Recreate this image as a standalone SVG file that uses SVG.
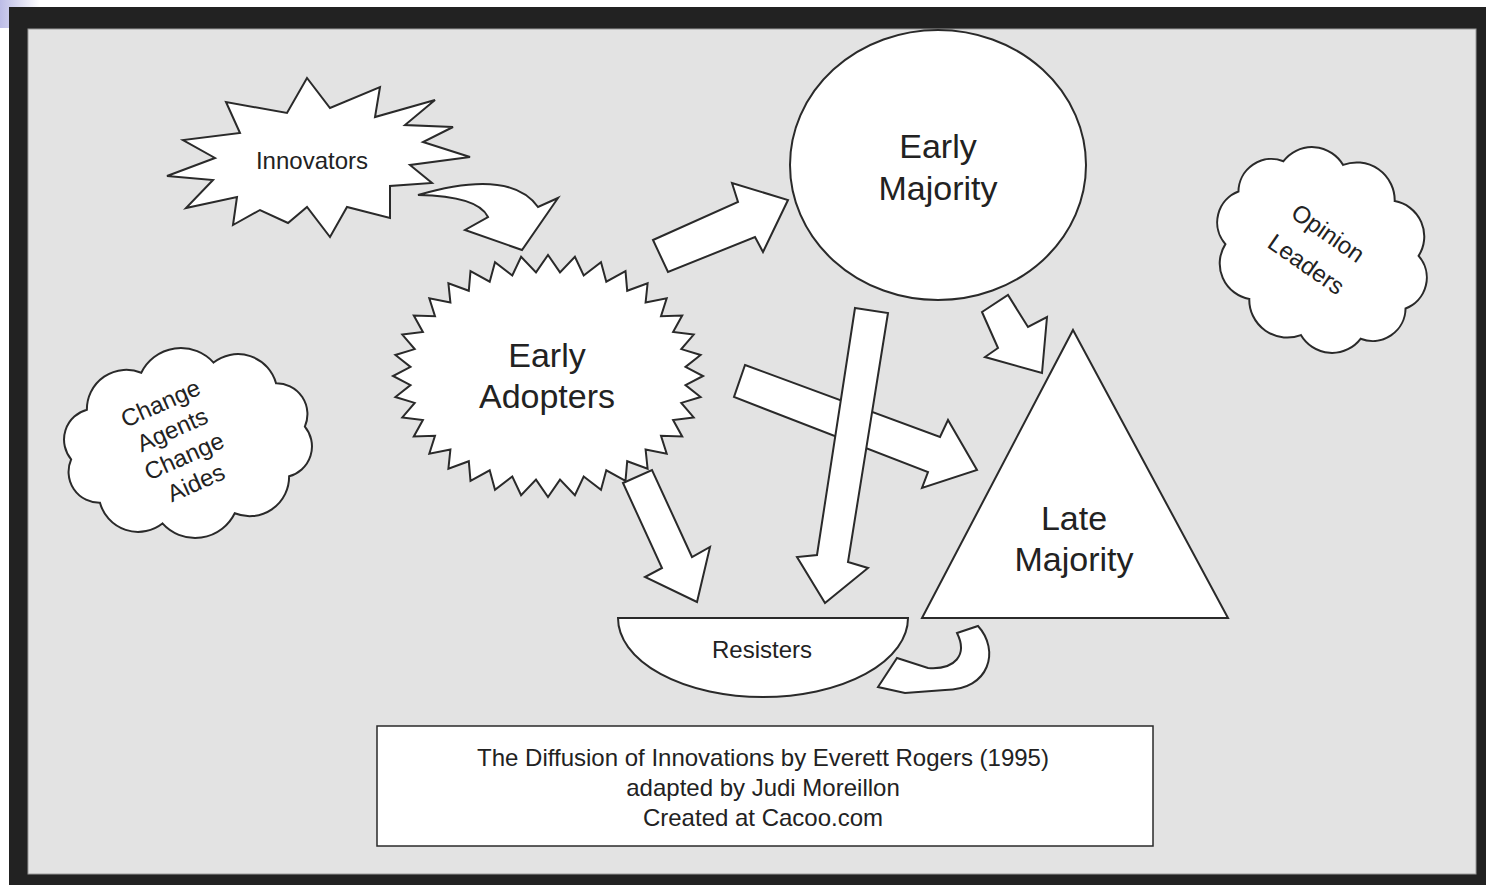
<svg xmlns="http://www.w3.org/2000/svg" width="1486" height="885" viewBox="0 0 1486 885">
<defs>
<linearGradient id="blueFade" x1="0" y1="0" x2="1" y2="0">
<stop offset="0" stop-color="#bcbce6"/>
<stop offset="1" stop-color="#ffffff"/>
</linearGradient>
<style>
.shape{fill:#ffffff;stroke:#2a2a2a;stroke-width:2;stroke-linejoin:miter}
.arrow{fill:#ffffff;stroke:#2a2a2a;stroke-width:2;stroke-linejoin:miter}
.t{font-family:"Liberation Sans",Arial,sans-serif;fill:#222222;text-anchor:middle}
.big{font-size:34px}
.mid{font-size:24px}
</style>
</defs>
<rect x="0" y="0" width="1486" height="885" fill="#ffffff"/>
<rect x="0" y="0" width="40" height="28" fill="url(#blueFade)"/>
<rect x="9" y="7" width="1477" height="878" fill="#222222"/>
<rect x="28" y="29" width="1448" height="845" fill="#e3e3e3" stroke="#9a9a9a" stroke-width="1"/>

<g id="innovators">
<polygon class="shape" points="167,176 215,158 183,140 240,133 226,102 287,113 307,78 330,108 380,87 375,117 435,100 405,125 453,127 423,142 470,157 410,165 432,183 390,186 390,218 347,207 330,237 307,207 288,223 260,210 233,225 237,197 186,208 213,180"/>
<text class="t mid" x="312" y="169">Innovators</text>
</g>

<g id="early-adopters">
<polygon class="shape" transform="translate(548,376)" points="155,0 137.5,9.1 152.6,21 133.3,26.9 145.7,41.4 125.1,44 134.2,60.5 113,59.7 118.7,77.8 97.6,73.5 99.6,92.7 79.2,85.2 77.5,104.8 58.3,94.3 53,113.7 35.7,100.5 26.9,119.2 12,103.6 0,121 -12,103.6 -26.9,119.2 -35.7,100.5 -53,113.7 -58.3,94.3 -77.5,104.8 -79.2,85.2 -99.6,92.7 -97.6,73.5 -118.7,77.8 -113,59.7 -134.2,60.5 -125.1,44 -145.7,41.4 -133.3,26.9 -152.6,21 -137.5,9.1 -155,0 -137.5,-9.1 -152.6,-21 -133.3,-26.9 -145.7,-41.4 -125.1,-44 -134.2,-60.5 -113,-59.7 -118.7,-77.8 -97.6,-73.5 -99.6,-92.7 -79.2,-85.2 -77.5,-104.8 -58.3,-94.3 -53,-113.7 -35.7,-100.5 -26.9,-119.2 -12,-103.6 0,-121 12,-103.6 26.9,-119.2 35.7,-100.5 53,-113.7 58.3,-94.3 77.5,-104.8 79.2,-85.2 99.6,-92.7 97.6,-73.5 118.7,-77.8 113,-59.7 134.2,-60.5 125.1,-44 145.7,-41.4 133.3,-26.9 152.6,-21 137.5,-9.1"/>
<text class="t big" x="547" y="367">Early</text>
<text class="t big" x="547" y="408">Adopters</text>
</g>

<g id="early-majority">
<ellipse class="shape" cx="938" cy="165" rx="148" ry="135"/>
<text class="t big" x="938" y="158">Early</text>
<text class="t big" x="938" y="200">Majority</text>
</g>

<g id="late-majority">
<polygon class="shape" points="1073,330 1228,618 922,618"/>
<text class="t big" x="1074" y="530">Late</text>
<text class="t big" x="1074" y="571">Majority</text>
</g>

<g id="resisters">
<path class="shape" d="M618,618 L908,618 A145,79 0 0 1 618,618 Z"/>
<text class="t mid" x="762" y="658">Resisters</text>
</g>

<g id="change-agents">
<path class="shape" transform="translate(188,443) rotate(-8)" d="M118,0 A31,31 0 0 1 95.5,47 A39.5,39.5 0 0 1 36.5,76.1 A44,44 0 0 1 -36.5,76.1 A39.5,39.5 0 0 1 -95.5,47 A31,31 0 0 1 -118,0 A31,31 0 0 1 -95.5,-47 A39.5,39.5 0 0 1 -36.5,-76.1 A44,44 0 0 1 36.5,-76.1 A39.5,39.5 0 0 1 95.5,-47 A31,31 0 0 1 118,0 Z"/>
<g transform="translate(178,445) rotate(-24)">
<text class="t mid" x="1" y="-37">Change</text>
<text class="t mid" x="1" y="-8">Agents</text>
<text class="t mid" x="1" y="21">Change</text>
<text class="t mid" x="1" y="50">Aides</text>
</g>
</g>

<g id="opinion-leaders">
<path class="shape" transform="translate(1322,250) rotate(35)" d="M102,0 A33,33 0 0 1 82.5,50.6 A36,36 0 0 1 31.5,81.8 A38,38 0 0 1 -31.5,81.8 A36,36 0 0 1 -82.5,50.6 A33,33 0 0 1 -102,0 A33,33 0 0 1 -82.5,-50.6 A36,36 0 0 1 -31.5,-81.8 A38,38 0 0 1 31.5,-81.8 A36,36 0 0 1 82.5,-50.6 A33,33 0 0 1 102,0 Z"/>
<g transform="translate(1317,249) rotate(35)">
<text class="t mid" x="0" y="-11">Opinion</text>
<text class="t mid" x="0" y="27">Leaders</text>
</g>
</g>

<g id="caption">
<rect x="377" y="726" width="776" height="120" fill="#ffffff" stroke="#2a2a2a" stroke-width="1.5"/>
<text class="t mid" x="763" y="766">The Diffusion of Innovations by Everett Rogers (1995)</text>
<text class="t mid" x="763" y="796">adapted by Judi Moreillon</text>
<text class="t mid" x="763" y="826">Created at Cacoo.com</text>
</g>

<g id="connectors">
<path class="arrow" d="M418,195 Q510,168 538,207 L558,198 L522,250 L465,230 L488,217 Q478,196 418,195 Z"/>
<polygon class="arrow" points="653,240 738,202 732,183 788,200 763,252 755,237 668,272"/>
<polygon class="arrow" points="745,365 940,437 948,420 977,470 922,488 928,472 734,397"/>
<polygon class="arrow" points="855,308 888,313 848,562 868,568 825,603 797,557 817,555"/>
<polygon class="arrow" points="623,483 652,470 692,557 710,547 697,602 645,577 662,568"/>
<polygon class="arrow" points="982,312 1008,295 1028,327 1047,317 1042,373 985,357 998,348"/>
<path class="arrow" d="M957,633 L978,626 C1000,650 990,690 945,690 L905,693 L878,687 L897,658 L928,668 C955,670 968,655 957,633 Z"/>
</g>
</svg>
